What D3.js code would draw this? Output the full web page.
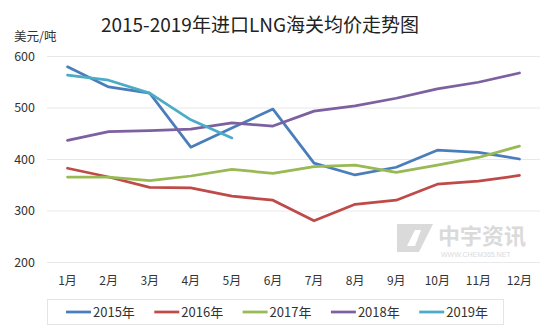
<!DOCTYPE html>
<html>
<head>
<meta charset="utf-8">
<script src="https://cdn.jsdelivr.net/npm/d3@7"></script>
<style>
  body { margin: 0; background: #fff; }
  text { font-family: "Noto Sans CJK SC", "Noto Sans", sans-serif; }
</style>
</head>
<body>
<div id="chart"></div>
<script>
const months = ['1月', '2月', '3月', '4月', '5月', '6月', '7月', '8月', '9月', '10月', '11月', '12月'];
const seriesNames = ['2015年', '2016年', '2017年', '2018年', '2019年'];
const yTicks = [200, 300, 400, 500, 600];

const price2015 = [579, 540, 528, 423, 460, 497, 392, 369, 384, 417, 413, 400];
const price2016 = [382, 365, 345, 344, 328, 320, 280, 312, 320, 351, 357, 368];
const price2017 = [365, 365, 358, 367, 380, 372, 385, 388, 374, 388, 403, 425];
const price2018 = [436, 453, 455, 458, 470, 464, 493, 503, 518, 536, 549, 567];
const price2019 = [563, 553, 528, 476, 441];

const colors = ['#4A7EBB', '#BE4B48', '#98B954', '#7D60A0', '#4BACC6'];

const seriesData = [price2015, price2016, price2017, price2018, price2019];

const width = 554, height = 332;
const margin = { top: 56, right: 14, bottom: 70, left: 47 };
const innerW = width - margin.left - margin.right;
const innerH = height - margin.top - margin.bottom;

const svg = d3.select('#chart')
    .append('svg')
    .attr('width', width)
    .attr('height', height);

svg.append('text')
    .attr('x', 260)
    .attr('y', 32)
    .attr('text-anchor', 'middle')
    .style('font-size', '19px')
    .style('fill', '#222')
    .text('2015-2019年进口LNG海关均价走势图');

svg.append('text')
    .attr('x', 14)
    .attr('y', 41)
    .style('font-size', '12.5px')
    .style('fill', '#333')
    .text('美元/吨');

const g = svg.append('g')
    .attr('transform', `translate(${margin.left}, ${margin.top})`);

const x = d3.scaleBand()
    .domain(months)
    .range([0, innerW]);

const y = d3.scaleLinear()
    .domain([200, 600])
    .range([innerH, 0]);

// horizontal grid
g.append('g')
    .attr('class', 'grid')
    .call(d3.axisLeft(y).tickValues(yTicks).tickSize(-innerW).tickFormat(''))
    .call(s => s.select('.domain').remove())
    .call(s => s.selectAll('line').attr('stroke', '#e8e8e8'));

// y axis labels
g.append('g')
    .call(d3.axisLeft(y).tickValues(yTicks).tickSize(0).tickPadding(12))
    .call(s => s.select('.domain').remove())
    .call(s => s.selectAll('text')
        .style('font-size', '12.5px')
        .style('fill', '#333')
        .style('font-family', '"Noto Sans CJK SC", sans-serif'));

// x axis labels
g.append('g')
    .attr('transform', `translate(0, ${innerH})`)
    .call(d3.axisBottom(x).tickSize(0).tickPadding(14))
    .call(s => s.select('.domain').remove())
    .call(s => s.selectAll('text')
        .style('font-size', '12px')
        .style('fill', '#333')
        .style('font-family', '"Noto Sans CJK SC", sans-serif'));

// watermark
const wm = svg.append('g').attr('fill', '#dadada');
wm.append('path')
    .attr('d', 'M397,224 L418,224 L404,252 L397,252 Z M412,224 L433,224 L419,252 L398,252 L402,246 L415,246 L421,230 L409,230 Z');
wm.append('text')
    .attr('x', 438)
    .attr('y', 244)
    .style('font-size', '22px')
    .style('font-weight', 'bold')
    .text('中宇资讯');
wm.append('text')
    .attr('x', 441)
    .attr('y', 257)
    .style('font-size', '7px')
    .style('font-family', '"Liberation Sans", sans-serif')
    .text('WWW.CHEM365.NET');

const line = d3.line()
    .x((d, i) => x(months[i]) + x.bandwidth() / 2)
    .y(d => y(d));

g.selectAll('.series')
    .data(seriesData)
    .enter()
    .append('path')
    .attr('class', 'series')
    .attr('d', d => line(d))
    .attr('fill', 'none')
    .attr('stroke', (d, i) => colors[i])
    .attr('stroke-width', 2.75)
    .attr('stroke-linejoin', 'round')
    .attr('stroke-linecap', 'round');

// legend
const legend = svg.append('g').attr('class', 'legend');
legend.append('rect')
    .attr('x', 47.5)
    .attr('y', 299.5)
    .attr('width', 456)
    .attr('height', 25)
    .attr('fill', 'none')
    .attr('stroke', '#e4e4e4');

const items = legend.selectAll('.legend-item')
    .data(seriesNames)
    .enter()
    .append('g')
    .attr('class', 'legend-item')
    .attr('transform', (d, i) => `translate(${66 + i * 88.3}, 312)`);

items.append('line')
    .attr('x1', 0)
    .attr('x2', 25)
    .attr('stroke', (d, i) => colors[i])
    .attr('stroke-width', 2.75);

items.append('text')
    .attr('x', 27)
    .attr('y', 4.5)
    .style('font-size', '13px')
    .style('fill', '#333')
    .text(d => d);
</script>
</body>
</html>
